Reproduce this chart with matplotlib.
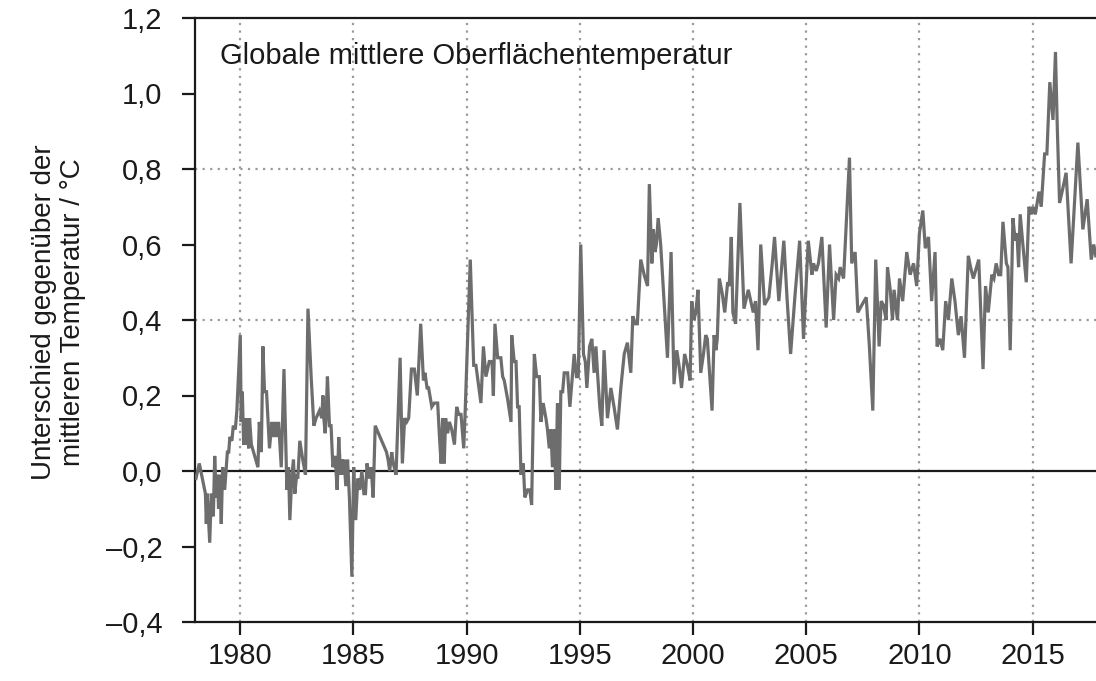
import matplotlib
matplotlib.use("Agg")
import matplotlib.pyplot as plt
from matplotlib.ticker import FixedLocator, FuncFormatter

# === DATA ===
years = [
    1978.04, 1978.19, 1978.46, 1978.50, 1978.54, 1978.65, 1978.72, 1978.81, 1978.87, 1978.94,
    1978.99, 1979.04, 1979.10, 1979.16, 1979.22, 1979.31, 1979.43, 1979.49, 1979.54, 1979.63,
    1979.69, 1979.78, 1979.85, 1980.00, 1980.04, 1980.09, 1980.15, 1980.19, 1980.25, 1980.29,
    1980.37, 1980.41, 1980.49, 1980.78, 1980.84, 1980.93, 1981.00, 1981.07, 1981.16, 1981.29,
    1981.40, 1981.47, 1981.54, 1981.60, 1981.69, 1981.81, 1981.93, 1982.06, 1982.13, 1982.19,
    1982.28, 1982.35, 1982.41, 1982.49, 1982.54, 1982.63, 1982.76, 1982.88, 1982.99, 1983.13,
    1983.25, 1983.35, 1983.50, 1983.60, 1983.65, 1983.69, 1983.75, 1983.79, 1983.85, 1983.94,
    1984.01, 1984.09, 1984.19, 1984.28, 1984.35, 1984.43, 1984.49, 1984.54, 1984.59, 1984.66,
    1984.74, 1984.82, 1984.93, 1985.01, 1985.10, 1985.19, 1985.28, 1985.37, 1985.46, 1985.53,
    1985.60, 1985.69, 1985.78, 1985.87, 1985.96, 1986.46, 1986.53, 1986.60, 1986.69, 1986.76,
    1986.88, 1987.06, 1987.16, 1987.26, 1987.35, 1987.44, 1987.56, 1987.69, 1987.82, 1987.97,
    1988.09, 1988.16, 1988.25, 1988.32, 1988.46, 1988.57, 1988.72, 1988.79, 1988.87, 1988.94,
    1989.01, 1989.07, 1989.16, 1989.24, 1989.34, 1989.46, 1989.56, 1989.65, 1989.75, 1989.87,
    1989.93, 1990.16, 1990.31, 1990.41, 1990.63, 1990.74, 1990.85, 1991.00, 1991.12, 1991.18,
    1991.25, 1991.37, 1991.51, 1991.59, 1991.66, 1991.81, 1991.96, 1991.99, 1992.10, 1992.18,
    1992.25, 1992.32, 1992.40, 1992.50, 1992.57, 1992.69, 1992.79, 1992.87, 1992.99, 1993.09,
    1993.21, 1993.28, 1993.38, 1993.50, 1993.57, 1993.65, 1993.72, 1993.79, 1993.87, 1993.94,
    1994.01, 1994.09, 1994.16, 1994.24, 1994.31, 1994.38, 1994.46, 1994.56, 1994.68, 1994.75,
    1994.85, 1994.93, 1995.04, 1995.16, 1995.24, 1995.31, 1995.43, 1995.53, 1995.63, 1995.71,
    1995.78, 1995.88, 1995.97, 1996.07, 1996.22, 1996.37, 1996.51, 1996.66, 1996.81, 1996.96,
    1997.10, 1997.25, 1997.34, 1997.44, 1997.54, 1997.69, 1997.84, 1997.99, 1998.07, 1998.18,
    1998.25, 1998.32, 1998.38, 1998.46, 1998.57, 1998.72, 1998.87, 1999.03, 1999.16, 1999.28,
    1999.38, 1999.49, 1999.63, 1999.75, 1999.87, 1999.94, 2000.04, 2000.12, 2000.22, 2000.34,
    2000.46, 2000.56, 2000.63, 2000.84, 2000.93, 2001.01, 2001.07, 2001.16, 2001.29, 2001.40,
    2001.53, 2001.60, 2001.69, 2001.76, 2001.88, 2002.07, 2002.25, 2002.44, 2002.66, 2002.76,
    2002.87, 2002.99, 2003.16, 2003.35, 2003.50, 2003.60, 2003.79, 2004.01, 2004.16, 2004.31,
    2004.51, 2004.71, 2004.88, 2005.09, 2005.25, 2005.32, 2005.44, 2005.54, 2005.69, 2005.88,
    2006.03, 2006.21, 2006.32, 2006.43, 2006.50, 2006.65, 2006.91, 2007.01, 2007.16, 2007.28,
    2007.46, 2007.65, 2007.79, 2007.94, 2008.07, 2008.22, 2008.31, 2008.41, 2008.53, 2008.59,
    2008.71, 2008.81, 2008.88, 2009.03, 2009.12, 2009.26, 2009.44, 2009.59, 2009.74, 2009.88,
    2010.00, 2010.15, 2010.26, 2010.40, 2010.54, 2010.69, 2010.78, 2010.91, 2011.03, 2011.16,
    2011.28, 2011.43, 2011.57, 2011.72, 2011.84, 2011.99, 2012.16, 2012.26, 2012.38, 2012.62,
    2012.81, 2012.92, 2013.04, 2013.20, 2013.29, 2013.39, 2013.50, 2013.59, 2013.69, 2013.84,
    2013.91, 2014.01, 2014.13, 2014.23, 2014.31, 2014.38, 2014.45, 2014.60, 2014.72, 2014.84,
    2014.94, 2015.01, 2015.12, 2015.20, 2015.28, 2015.38, 2015.53, 2015.63, 2015.76, 2015.90,
    2016.01, 2016.09, 2016.19, 2016.34, 2016.48, 2016.70, 2017.00, 2017.22, 2017.41, 2017.59,
    2017.70, 2017.79,
]
anomaly = [
    -0.02, 0.02, -0.06, -0.14, -0.06, -0.19, -0.06, -0.12, 0.04, -0.07,
    -0.01, -0.10, -0.01, -0.14, 0.01, -0.05, 0.05, 0.05, 0.09, 0.08,
    0.12, 0.11, 0.16, 0.36, 0.13, 0.21, 0.07, 0.14, 0.07, 0.14,
    0.06, 0.14, 0.07, 0.01, 0.13, 0.05, 0.33, 0.21, 0.21, 0.06,
    0.13, 0.09, 0.13, 0.09, 0.13, 0.01, 0.27, -0.05, 0.01, -0.13,
    -0.01, 0.03, -0.06, -0.01, -0.02, 0.08, 0.03, -0.01, 0.43, 0.25,
    0.12, 0.14, 0.16, 0.14, 0.20, 0.14, 0.10, 0.14, 0.25, 0.12,
    0.12, 0.01, 0.04, -0.05, 0.09, -0.01, 0.03, -0.01, 0.03, -0.04,
    0.03, -0.07, -0.28, 0.01, -0.13, -0.02, -0.05, 0.00, -0.06, -0.06,
    0.02, -0.02, 0.01, -0.07, 0.12, 0.05, 0.03, 0.00, 0.05, 0.02,
    -0.01, 0.30, 0.02, 0.14, 0.13, 0.14, 0.27, 0.27, 0.20, 0.39,
    0.24, 0.26, 0.22, 0.22, 0.17, 0.18, 0.18, 0.10, 0.02, 0.14,
    0.02, 0.14, 0.10, 0.13, 0.11, 0.07, 0.17, 0.15, 0.15, 0.06,
    0.15, 0.56, 0.28, 0.28, 0.18, 0.33, 0.25, 0.29, 0.29, 0.20,
    0.39, 0.30, 0.30, 0.25, 0.24, 0.19, 0.13, 0.36, 0.29, 0.29,
    0.17, 0.17, -0.01, 0.02, -0.07, -0.05, -0.05, -0.09, 0.31, 0.25,
    0.25, 0.13, 0.18, 0.14, 0.11, 0.06, 0.11, 0.01, 0.11, -0.05,
    0.18, -0.05, 0.21, 0.21, 0.26, 0.26, 0.26, 0.17, 0.26, 0.31,
    0.25, 0.25, 0.60, 0.31, 0.29, 0.22, 0.33, 0.35, 0.26, 0.33,
    0.26, 0.17, 0.12, 0.32, 0.14, 0.22, 0.17, 0.11, 0.22, 0.31,
    0.34, 0.26, 0.41, 0.39, 0.39, 0.56, 0.52, 0.49, 0.76, 0.55,
    0.64, 0.58, 0.60, 0.67, 0.60, 0.45, 0.30, 0.58, 0.23, 0.32,
    0.28, 0.22, 0.31, 0.28, 0.24, 0.45, 0.40, 0.42, 0.48, 0.26,
    0.31, 0.36, 0.35, 0.16, 0.36, 0.32, 0.35, 0.51, 0.47, 0.42,
    0.50, 0.49, 0.62, 0.42, 0.39, 0.71, 0.43, 0.48, 0.42, 0.45,
    0.32, 0.60, 0.44, 0.46, 0.55, 0.62, 0.45, 0.61, 0.45, 0.31,
    0.47, 0.61, 0.35, 0.61, 0.52, 0.55, 0.53, 0.55, 0.62, 0.38,
    0.60, 0.40, 0.52, 0.51, 0.54, 0.51, 0.83, 0.55, 0.58, 0.42,
    0.44, 0.46, 0.33, 0.16, 0.56, 0.33, 0.45, 0.44, 0.40, 0.54,
    0.48, 0.40, 0.48, 0.40, 0.51, 0.45, 0.58, 0.52, 0.55, 0.49,
    0.63, 0.69, 0.59, 0.62, 0.45, 0.58, 0.33, 0.35, 0.32, 0.45,
    0.40, 0.51, 0.45, 0.36, 0.41, 0.30, 0.57, 0.54, 0.51, 0.56,
    0.27, 0.49, 0.42, 0.52, 0.51, 0.55, 0.52, 0.52, 0.66, 0.55,
    0.54, 0.32, 0.67, 0.61, 0.63, 0.54, 0.68, 0.58, 0.50, 0.70,
    0.68, 0.70, 0.68, 0.71, 0.74, 0.70, 0.84, 0.84, 1.03, 0.93,
    1.11, 0.91, 0.71, 0.75, 0.79, 0.55, 0.87, 0.64, 0.72, 0.56,
    0.60, 0.57,
]

year_ticks = [1980, 1985, 1990, 1995, 2000, 2005, 2010, 2015]
value_ticks = [-0.4, -0.2, 0.0, 0.2, 0.4, 0.6, 0.8, 1.0, 1.2]
dotted_levels = [0.4, 0.8]

title = "Globale mittlere Oberflächentemperatur"
ylabel = "Unterschied gegenüber der\nmittleren Temperatur / °C"

# === STYLE ===
plt.rcParams["font.family"] = ["Liberation Sans", "DejaVu Sans"]
line_color = "#6d6d6d"
grid_color = "#9a9a9a"
axis_color = "#1a1a1a"

fig = plt.figure(figsize=(10.96, 6.81), dpi=100)
ax = fig.add_axes([195 / 1096, 1 - 622 / 681, 1 - 195 / 1096, (622 - 18) / 681])

ax.set_xlim(1978.0, 2017.8)
ax.set_ylim(-0.4, 1.2)

# dotted grid
for yr in year_ticks:
    ax.axvline(yr, color=grid_color, lw=1.6, ls=(0, (1, 2.4)), zorder=1)
for lv in dotted_levels:
    ax.axhline(lv, color=grid_color, lw=1.6, ls=(0, (1, 2.4)), zorder=1)
ax.axhline(0.0, color=axis_color, lw=1.6, zorder=2)

ax.plot(years, anomaly, color=line_color, lw=2.3, solid_joinstyle="miter", zorder=3)

for side in ["left", "top", "bottom"]:
    ax.spines[side].set_linewidth(1.6)
    ax.spines[side].set_color(axis_color)
ax.spines["right"].set_visible(False)

ax.xaxis.set_major_locator(FixedLocator(year_ticks))
ax.yaxis.set_major_locator(FixedLocator(value_ticks))
ax.yaxis.set_major_formatter(
    FuncFormatter(lambda v, p: f"{v:.1f}".replace(".", ",").replace("-", "\u2013"))
)
ax.tick_params(axis="both", direction="out", length=9.5, width=1.6, color=axis_color,
               labelsize=21, labelcolor="#1a1a1a")
ax.tick_params(axis="x", pad=5)
ax.tick_params(axis="y", pad=14)

ax.set_ylabel(ylabel, fontsize=20, color="#1a1a1a", labelpad=14, linespacing=1.15)
ax.yaxis.label.set_y(0.5 + 8 / 604)

ax.text(1979.1, 1.10, title, fontsize=21, color="#1a1a1a", va="center", ha="left")

plt.savefig("out.png", dpi=100)
plt.close()
